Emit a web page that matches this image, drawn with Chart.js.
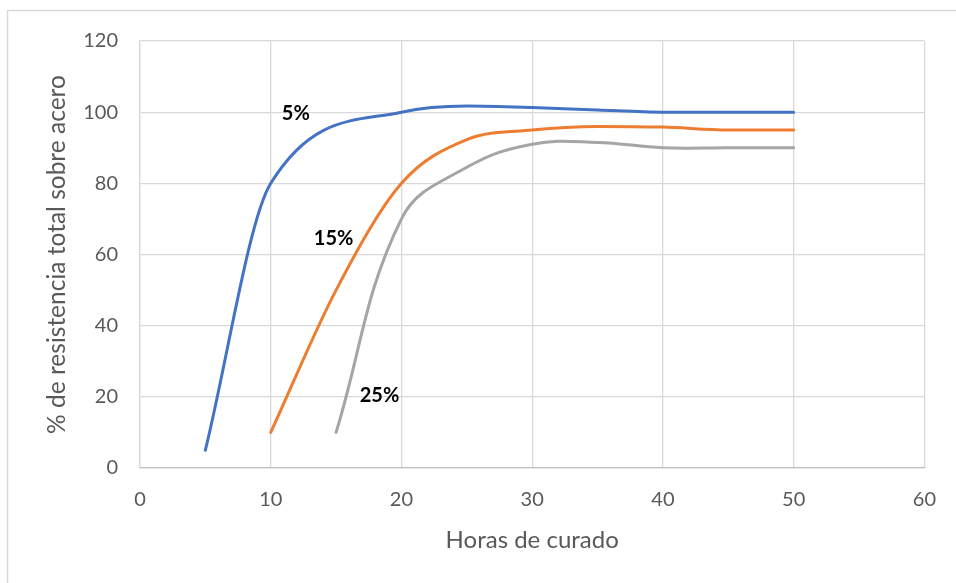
<!DOCTYPE html>
<html>
<head>
<meta charset="utf-8">
<script src="https://cdn.jsdelivr.net/npm/chart.js@4.4.1/dist/chart.umd.min.js"></script>
<style>
  html, body { margin: 0; padding: 0; background: #ffffff; }
  #wrap { width: 956px; height: 583px; position: relative; }
</style>
</head>
<body>
<div id="wrap"><canvas id="c" width="956" height="583"></canvas></div>
<script>
// Curing time (hours) and percentage of total strength relative to steel
const hours5  = [5, 10, 20, 25, 30, 35, 40, 50];
const pct5    = [5, 80, 100, 101.7, 101.3, 100.6, 100, 100];

const hours15 = [10, 15, 20, 25, 30, 35, 40, 45, 50];
const pct15   = [10, 50, 80, 92.3, 95, 96, 95.8, 95, 95];

const hours25 = [15, 20, 25, 30, 35, 40, 45, 50];
const pct25   = [10, 70, 84.5, 91, 91.5, 90, 90, 90];

const seriesNames = ['5%', '15%', '25%'];
// Where each series name is written, in data units
const labelX = [11.92, 14.81, 18.32];
const labelY = [99.5, 64.4, 20.3];

const xTicks = [0, 10, 20, 30, 40, 50, 60];
const yTicks = [0, 20, 40, 60, 80, 100, 120];

const FONT = "Lato, 'Open Sans', sans-serif";

function pts(xs, ys) { return xs.map((x, i) => ({ x: x, y: ys[i] })); }

// Thin frame round the whole figure
const framePlugin = {
  id: 'frame',
  beforeDraw(chart) {
    const ctx = chart.ctx;
    ctx.save();
    ctx.fillStyle = '#ffffff';
    ctx.fillRect(0, 0, chart.width, chart.height);
    ctx.strokeStyle = '#d9d9d9';
    ctx.lineWidth = 1.5;
    ctx.strokeRect(7.5, 10.5, chart.width + 10, chart.height + 10);
    ctx.restore();
  }
};

// Series names written next to their curves
const seriesLabelPlugin = {
  id: 'seriesLabels',
  afterDatasetsDraw(chart) {
    const ctx = chart.ctx;
    const xs = chart.scales.x, ys = chart.scales.y;
    ctx.save();
    ctx.font = "bold 20px " + FONT;
    ctx.fillStyle = '#000000';
    ctx.textAlign = 'center';
    ctx.textBaseline = 'middle';
    seriesNames.forEach((name, i) => {
      ctx.fillText(name, xs.getPixelForValue(labelX[i]), ys.getPixelForValue(labelY[i]));
    });
    ctx.restore();
  }
};

const lineStyle = { borderWidth: 3, pointRadius: 0, fill: false, borderCapStyle: 'round', borderJoinStyle: 'round' };

new Chart(document.getElementById('c'), {
  type: 'line',
  data: {
    datasets: [
      Object.assign({ label: seriesNames[0], data: pts(hours5, pct5), borderColor: '#4472C4',
                      cubicInterpolationMode: 'monotone' }, lineStyle),
      Object.assign({ label: seriesNames[1], data: pts(hours15, pct15), borderColor: '#ED7D31',
                      cubicInterpolationMode: 'monotone' }, lineStyle),
      Object.assign({ label: seriesNames[2], data: pts(hours25, pct25), borderColor: '#A5A5A5',
                      tension: 0.4 }, lineStyle)
    ]
  },
  options: {
    responsive: false,
    animation: false,
    devicePixelRatio: 1,
    layout: { padding: { left: 0, right: 31, top: 41, bottom: 0 } },
    plugins: { legend: { display: false }, tooltip: { enabled: false } },
    scales: {
      x: {
        type: 'linear',
        min: 0, max: 60,
        afterBuildTicks(scale) { scale.ticks = xTicks.map(v => ({ value: v })); },
        afterFit(scale) { scale.height = 115; },
        grid: { color: '#d9d9d9', lineWidth: 1.3, drawTicks: false },
        border: { color: '#bfbfbf', width: 1.3 },
        ticks: { color: '#595959', font: { family: FONT, size: 20 }, padding: 20, maxRotation: 0 },
        title: { display: true, text: 'Horas de curado', color: '#595959',
                 font: { family: FONT, size: 24 }, padding: { top: 0, bottom: 28.5 } }
      },
      y: {
        type: 'linear',
        min: 0, max: 120,
        afterBuildTicks(scale) { scale.ticks = yTicks.map(v => ({ value: v })); },
        afterFit(scale) { scale.width = 140; },
        grid: { color: '#d9d9d9', lineWidth: 1.3, drawTicks: false },
        border: { color: '#d9d9d9', width: 1.3 },
        ticks: { color: '#595959', font: { family: FONT, size: 20 }, padding: 22 },
        title: { display: true, text: '% de resistencia total sobre acero', color: '#595959',
                 font: { family: FONT, size: 24.5 }, padding: { top: 42, bottom: 0 } }
      }
    }
  },
  plugins: [framePlugin, seriesLabelPlugin]
});
</script>
</body>
</html>
